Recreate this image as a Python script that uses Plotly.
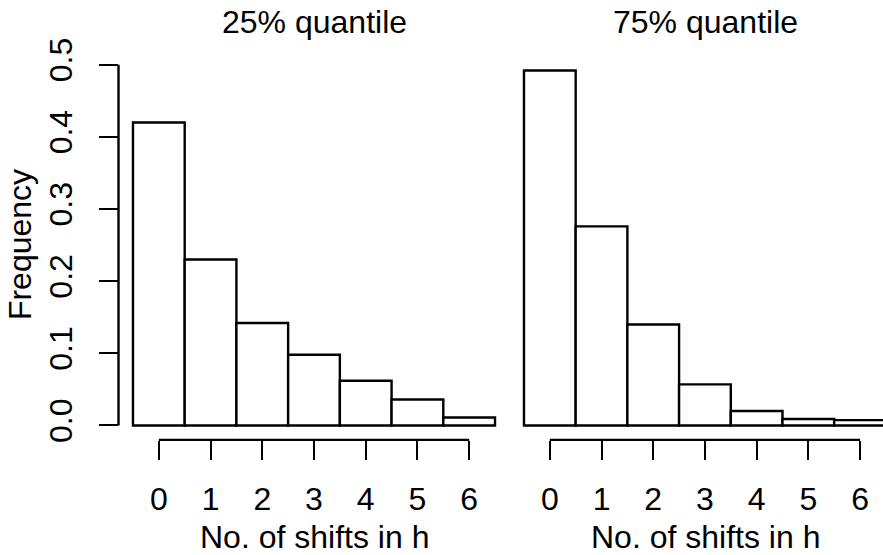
import plotly.graph_objects as go

# ---- data ----
shifts = [0, 1, 2, 3, 4, 5, 6]
tick_labels = ["0", "1", "2", "3", "4", "5", "6"]
freq_q25 = [0.420, 0.230, 0.142, 0.098, 0.062, 0.036, 0.011]
freq_q75 = [0.492, 0.276, 0.140, 0.057, 0.020, 0.009, 0.0075]
y_ticks = [0.0, 0.1, 0.2, 0.3, 0.4, 0.5]
y_tick_labels = ["0.0", "0.1", "0.2", "0.3", "0.4", "0.5"]
panel_titles = ["25% quantile", "75% quantile"]
x_title = "No. of shifts in h"
y_title = "Frequency"

# ---- layout geometry (pixels) ----
W, H = 883, 555
FONT = "Liberation Sans, Arial, sans-serif"
FS = 32
LW = 2.4

left_dom = [118.5 / W, 509.5 / W]
right_dom = [509.5 / W, 1.0]
y_dom = [(H - 439.8) / H, (H - 39.4) / H]
px_per_unit = 51.7
x_range_left = [-0.78, 6.78]
x_range_right = [-0.78, -0.78 + (W - 509.5) / px_per_unit]
y_range = [-0.02, 0.52]

fig = go.Figure()
for vals, xa, ya in [(freq_q25, "x", "y"), (freq_q75, "x2", "y2")]:
    fig.add_trace(go.Bar(
        x=shifts, y=vals, width=1.0, xaxis=xa, yaxis=ya,
        marker=dict(color="white", line=dict(color="black", width=LW)),
        showlegend=False, hoverinfo="x+y",
    ))

xcommon = dict(
    tickmode="array", tickvals=shifts, ticktext=tick_labels,
    ticks="outside", ticklen=19, tickwidth=LW, tickcolor="black",
    showline=False, showgrid=False, zeroline=False,
    tickfont=dict(family=FONT, size=FS, color="black"),
    ticklabelstandoff=12,
)
fig.update_layout(
    width=W, height=H,
    margin=dict(l=0, r=0, t=0, b=0),
    paper_bgcolor="white", plot_bgcolor="white",
    font=dict(family=FONT, size=FS, color="black"),
    xaxis=dict(domain=left_dom, range=x_range_left, anchor="y", **xcommon),
    xaxis2=dict(domain=right_dom, range=x_range_right, anchor="y2", **xcommon),
    yaxis=dict(
        domain=y_dom, range=y_range, anchor="x",
        tickmode="array", tickvals=y_ticks, ticktext=y_tick_labels,
        ticks="outside", ticklen=19, tickwidth=LW, tickcolor="black",
        tickangle=-90, showline=False, showgrid=False, zeroline=False,
        tickfont=dict(family=FONT, size=FS, color="black"),
        ticklabelstandoff=14,
    ),
    yaxis2=dict(domain=y_dom, range=y_range, anchor="x2", visible=False),
)

shapes = []
# y axis line (first to last tick)
shapes.append(dict(type="line", xref="x domain", yref="y", x0=0, x1=0,
                   y0=y_ticks[0], y1=y_ticks[-1], line=dict(color="black", width=LW)))
# x axis lines (first to last tick)
for xr, yr in [("x", "y domain"), ("x2", "y2 domain")]:
    shapes.append(dict(type="line", xref=xr, yref=yr, x0=shifts[0], x1=shifts[-1],
                       y0=0, y1=0, line=dict(color="black", width=LW)))
fig.update_layout(shapes=shapes)

ann = []
centers = [314 / W, 705 / W]
for t, cx in zip(panel_titles, centers):
    ann.append(dict(text=t, xref="paper", yref="paper", x=cx, y=(H - 10) / H,
                    xanchor="center", yanchor="middle", showarrow=False,
                    font=dict(family=FONT, size=FS, color="black")))
    ann.append(dict(text=x_title, xref="paper", yref="paper", x=cx, y=(H - 540) / H,
                    xanchor="center", yanchor="middle", showarrow=False,
                    font=dict(family=FONT, size=FS, color="black")))
ann.append(dict(text=y_title, xref="paper", yref="paper", x=20 / W, y=(H - 239.6) / H,
                xanchor="center", yanchor="middle", textangle=-90, showarrow=False,
                font=dict(family=FONT, size=FS, color="black")))
fig.update_layout(annotations=ann)

fig.write_html("out.html")
